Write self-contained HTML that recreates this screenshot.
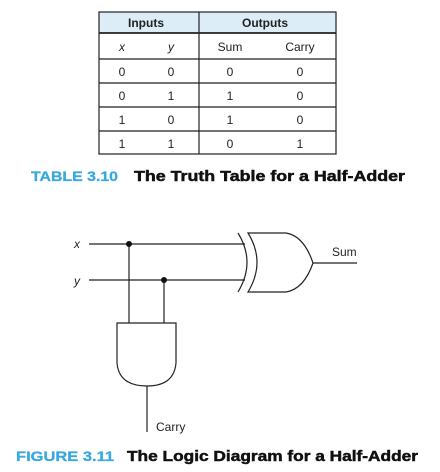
<!DOCTYPE html>
<html><head><meta charset="utf-8"><style>
html,body{margin:0;padding:0;background:#fff;}
svg{display:block;}
text{font-family:"Liberation Sans",sans-serif;}
</style></head><body>
<svg width="440" height="472" viewBox="0 0 440 472" xmlns="http://www.w3.org/2000/svg">
<rect x="99" y="12" width="237" height="21" fill="#dcedf8"/>
<g stroke="#222" stroke-width="1.2" fill="none">
<rect x="99" y="12" width="237" height="142"/>
<line x1="99" y1="33" x2="336" y2="33" stroke-width="1.8"/>
<line x1="99" y1="59" x2="336" y2="59"/>
<line x1="99" y1="83" x2="336" y2="83"/>
<line x1="99" y1="107" x2="336" y2="107"/>
<line x1="99" y1="131" x2="336" y2="131"/>
<line x1="199" y1="12" x2="199" y2="154"/>
</g>
<g font-size="12" fill="#222" text-anchor="middle">
<text x="146" y="27" font-weight="bold">Inputs</text>
<text x="265" y="27" font-weight="bold">Outputs</text>
<text x="122" y="51" font-style="italic">x</text>
<text x="171" y="51" font-style="italic">y</text>
<text x="230" y="51">Sum</text>
<text x="300" y="51">Carry</text>
<text x="122" y="76">0</text><text x="171" y="76">0</text><text x="230" y="76">0</text><text x="300" y="76">0</text>
<text x="122" y="100">0</text><text x="171" y="100">1</text><text x="230" y="100">1</text><text x="300" y="100">0</text>
<text x="122" y="124">1</text><text x="171" y="124">0</text><text x="230" y="124">1</text><text x="300" y="124">0</text>
<text x="122" y="148">1</text><text x="171" y="148">1</text><text x="230" y="148">0</text><text x="300" y="148">1</text>
</g>
<text x="31" y="181" font-size="14" font-weight="bold" fill="#3aa8e0" stroke="#3aa8e0" stroke-width="0.3" textLength="87" lengthAdjust="spacingAndGlyphs">TABLE 3.10</text>
<text x="134" y="181" font-size="15" font-weight="bold" fill="#111" stroke="#111" stroke-width="0.5" textLength="271" lengthAdjust="spacingAndGlyphs">The Truth Table for a Half-Adder</text>

<g stroke="#222" stroke-width="1.2" fill="none">
<line x1="89" y1="244" x2="245" y2="244"/>
<line x1="89" y1="280" x2="245" y2="280"/>
<line x1="129" y1="244" x2="129" y2="323"/>
<line x1="164" y1="280" x2="164" y2="323"/>
<path d="M238 233 Q256 262 238 292"/>
<path d="M248 233 L286 233 Q304 236 313 263 Q304 289 286 292 L248 292 Q266 262 248 233 Z"/>
<line x1="313" y1="263" x2="357" y2="263"/>
<path d="M117 323 L176 323 L176 363 Q174 386 147 386 Q119 386 117 363 Z"/>
<line x1="147" y1="386" x2="147" y2="432"/>
</g>
<circle cx="129" cy="244" r="3" fill="#111"/>
<circle cx="164" cy="280" r="3" fill="#111"/>
<g font-size="12" fill="#222">
<text x="74" y="248" font-style="italic">x</text>
<text x="74" y="285" font-style="italic">y</text>
<text x="332" y="256">Sum</text>
<text x="156" y="431">Carry</text>
</g>
<text x="16" y="461" font-size="14" font-weight="bold" fill="#3aa8e0" stroke="#3aa8e0" stroke-width="0.3" textLength="98" lengthAdjust="spacingAndGlyphs">FIGURE 3.11</text>
<text x="127" y="461" font-size="15" font-weight="bold" fill="#111" stroke="#111" stroke-width="0.5" textLength="291" lengthAdjust="spacingAndGlyphs">The Logic Diagram for a Half-Adder</text>
</svg>
</body></html>
